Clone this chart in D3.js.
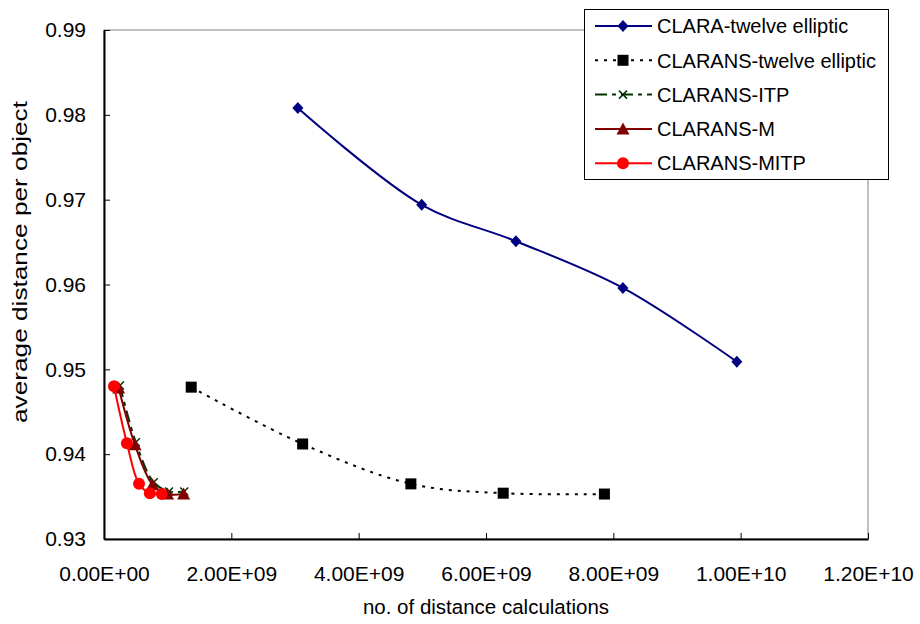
<!DOCTYPE html>
<html>
<head>
<meta charset="utf-8">
<script src="https://cdn.jsdelivr.net/npm/d3@7"></script>
<style>
  body { margin: 0; background: #fff; }
  text { font-family: "Liberation Sans", Arial, sans-serif; fill: #000; }
</style>
</head>
<body>
<div id="chart"></div>
<script>
// chart values
const seriesNames = ["CLARA-twelve elliptic", "CLARANS-twelve elliptic", "CLARANS-ITP", "CLARANS-M", "CLARANS-MITP"];

const claraX = [3.045e9, 4.99e9, 6.47e9, 8.15e9, 9.94e9];
const claraY = [0.9808, 0.9694, 0.9651, 0.9596, 0.9509];

const twelveX = [1.37e9, 3.12e9, 4.82e9, 6.27e9, 7.86e9];
const twelveY = [0.9479, 0.9412, 0.9365, 0.9354, 0.9353];

const itpX = [0.25e9, 0.50e9, 0.78e9, 1.02e9, 1.26e9];
const itpY = [0.9481, 0.9414, 0.9367, 0.9356, 0.9356];

const mX = [0.23e9, 0.487e9, 0.763e9, 0.998e9, 1.25e9];
const mY = [0.9478, 0.9411, 0.9364, 0.9353, 0.9353];

const mitpX = [0.157e9, 0.36e9, 0.55e9, 0.72e9, 0.907e9];
const mitpY = [0.9480, 0.9413, 0.9365, 0.9354, 0.9353];

const xTicks = [0, 2e9, 4e9, 6e9, 8e9, 1e10, 1.2e10];
const yTicks = [0.93, 0.94, 0.95, 0.96, 0.97, 0.98, 0.99];

const width = 920;
const height = 624;
const plot = { left: 104, right: 868, top: 30, bottom: 539 };

const svg = d3.select("#chart")
  .append("svg")
  .attr("width", width)
  .attr("height", height);

const x = d3.scaleLinear().domain([0, 1.2e10]).range([plot.left, plot.right]);
const y = d3.scaleLinear().domain([0.93, 0.99]).range([plot.bottom, plot.top]);

// Excel-like scientific labels, e.g. 2.00E+09
function sci(v) {
  if (v === 0) return "0.00E+00";
  const e = Math.floor(Math.log10(v));
  const m = v / Math.pow(10, e);
  return m.toFixed(2) + "E+" + (e < 10 ? "0" + e : e);
}

// plot frame: grey top/right, black axes
svg.append("rect")
  .attr("x", plot.left).attr("y", plot.top)
  .attr("width", plot.right - plot.left).attr("height", plot.bottom - plot.top)
  .attr("fill", "none").attr("stroke", "#808080").attr("stroke-width", 1);

const xAxis = svg.append("g")
  .attr("transform", `translate(0,${plot.bottom})`)
  .call(d3.axisBottom(x).tickValues(xTicks).tickFormat(sci).tickSizeInner(-6).tickSizeOuter(0).tickPadding(27));

const yAxis = svg.append("g")
  .attr("transform", `translate(${plot.left},0)`)
  .call(d3.axisLeft(y).tickValues(yTicks).tickFormat(d3.format(".2f")).tickSizeInner(-6).tickSizeOuter(0).tickPadding(18));

[xAxis, yAxis].forEach(g => {
  g.select(".domain").attr("stroke", "#000").attr("stroke-width", 2);
  g.selectAll(".tick line").attr("stroke", "#000").attr("stroke-width", 1);
  g.selectAll(".tick text").attr("font-size", 21).attr("font-family", "Liberation Sans, Arial, sans-serif");
});

// axis titles
svg.append("text")
  .attr("x", (plot.left + plot.right) / 2)
  .attr("y", 614)
  .attr("text-anchor", "middle")
  .attr("font-size", 20.5)
  .text("no. of distance calculations");

svg.append("text")
  .attr("transform", `translate(27,262) rotate(-90)`)
  .attr("text-anchor", "middle")
  .attr("font-size", 21)
  .attr("textLength", 322)
  .attr("lengthAdjust", "spacingAndGlyphs")
  .text("average distance per object");

// series definitions (styles)
const series = [
  { name: seriesNames[0], xs: claraX, ys: claraY, color: "#000080", dash: null, marker: "diamond" },
  { name: seriesNames[1], xs: twelveX, ys: twelveY, color: "#000000", dash: "3,6", marker: "square" },
  { name: seriesNames[2], xs: itpX, ys: itpY, color: "#003300", dash: "12,5,4,5", marker: "cross" },
  { name: seriesNames[3], xs: mX, ys: mY, color: "#800000", dash: null, marker: "triangle" },
  { name: seriesNames[4], xs: mitpX, ys: mitpY, color: "#ff0000", dash: null, marker: "circle" }
];

const line = d3.line()
  .x(d => x(d[0]))
  .y(d => y(d[1]))
  .curve(d3.curveCatmullRom.alpha(0.5));

function drawMarker(g, type, cx, cy, color) {
  if (type === "diamond") {
    g.append("path")
      .attr("d", `M${cx},${cy - 6}L${cx + 5.5},${cy}L${cx},${cy + 6}L${cx - 5.5},${cy}Z`)
      .attr("fill", color);
  } else if (type === "square") {
    g.append("rect")
      .attr("x", cx - 5.5).attr("y", cy - 5.5)
      .attr("width", 11).attr("height", 11)
      .attr("fill", color);
  } else if (type === "cross") {
    g.append("path")
      .attr("d", `M${cx - 4},${cy - 4}L${cx + 4},${cy + 4}M${cx - 4},${cy + 4}L${cx + 4},${cy - 4}`)
      .attr("stroke", color).attr("stroke-width", 1.5);
  } else if (type === "triangle") {
    g.append("path")
      .attr("d", `M${cx},${cy - 6.5}L${cx + 6.5},${cy + 5.5}L${cx - 6.5},${cy + 5.5}Z`)
      .attr("fill", color);
  } else if (type === "circle") {
    g.append("circle")
      .attr("cx", cx).attr("cy", cy).attr("r", 6)
      .attr("fill", color);
  }
}

series.forEach(s => {
  const pts = s.xs.map((v, i) => [v, s.ys[i]]);
  const g = svg.append("g");
  g.append("path")
    .datum(pts)
    .attr("d", line)
    .attr("fill", "none")
    .attr("stroke", s.color)
    .attr("stroke-width", 2)
    .attr("stroke-dasharray", s.dash);
  pts.forEach(p => drawMarker(g, s.marker, x(p[0]), y(p[1]), s.color));
});

// legend
const legend = svg.append("g");
legend.append("rect")
  .attr("x", 584.5).attr("y", 9.5)
  .attr("width", 304).attr("height", 170)
  .attr("fill", "#fff").attr("stroke", "#000").attr("stroke-width", 1);

series.forEach((s, i) => {
  const ly = 26 + i * 34.3;
  const g = legend.append("g");
  g.append("line")
    .attr("x1", 595).attr("x2", 652)
    .attr("y1", ly).attr("y2", ly)
    .attr("stroke", s.color).attr("stroke-width", 2)
    .attr("stroke-dasharray", s.dash);
  drawMarker(g, s.marker, 623, ly, s.color);
  g.append("text")
    .attr("x", 657).attr("y", ly)
    .attr("dy", "0.36em")
    .attr("font-size", 20)
    .text(s.name);
});
</script>
</body>
</html>
